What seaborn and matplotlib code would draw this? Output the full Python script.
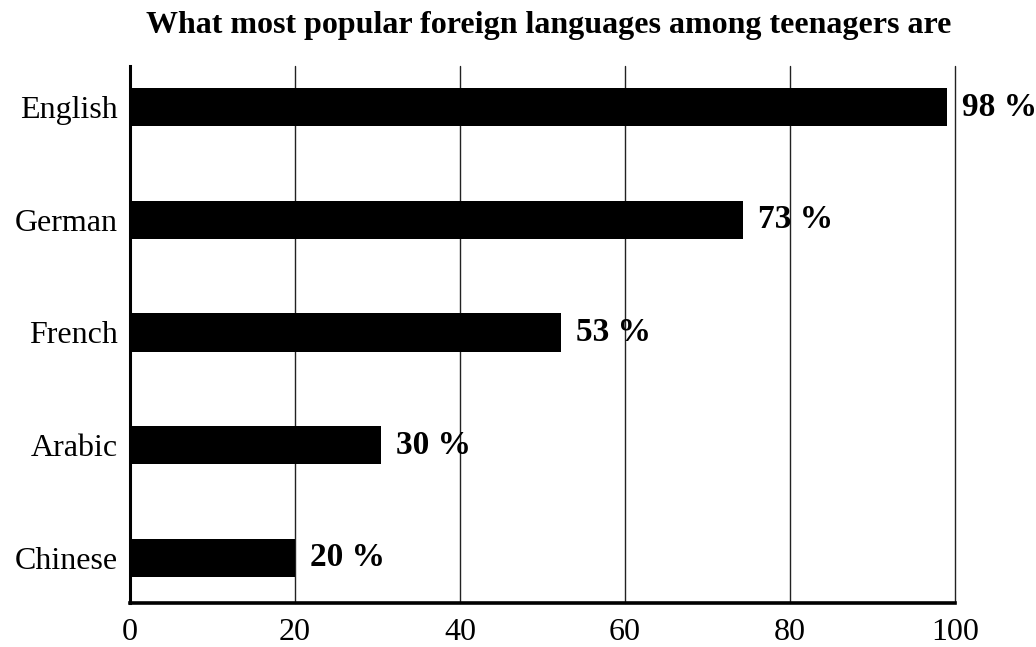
import matplotlib
matplotlib.use("Agg")
import matplotlib.pyplot as plt
import seaborn as sns
import pandas as pd

languages = ["English", "German", "French", "Arabic", "Chinese"]
shares = [99, 74.3, 52.2, 30.4, 20]
share_labels = ["98 %", "73 %", "53 %", "30 %", "20 %"]
x_ticks = [0, 20, 40, 60, 80, 100]
title = "What most popular foreign languages among teenagers are"

sns.set_theme(style="white")
plt.rcParams["font.family"] = ["Liberation Serif", "DejaVu Serif"]

df = pd.DataFrame({"language": languages, "share": shares})

fig = plt.figure(figsize=(10.36, 6.47), dpi=100)
ax = fig.add_axes([0.1255, 0.068, 0.7963, 0.830])

sns.barplot(data=df, x="share", y="language", orient="h", color="black",
            width=0.34, ax=ax, saturation=1, edgecolor="black", linewidth=0, zorder=3)

ax.set_xlim(0, 100)
ax.set_ylim(4.4, -0.364)
ax.set_xticks(x_ticks)
ax.set_xticklabels([str(t) for t in x_ticks])
ax.set_xlabel("")
ax.set_ylabel("")

for t in x_ticks[1:]:
    ax.axvline(t, color="#222222", linewidth=1.0, zorder=1, clip_on=False)

for sp in ["top", "right"]:
    ax.spines[sp].set_visible(False)
ax.spines["left"].set_linewidth(2.2)
ax.spines["bottom"].set_linewidth(2.6)
ax.spines["left"].set_color("black")
ax.spines["bottom"].set_color("black")
ax.spines["left"].set_zorder(4)
ax.spines["bottom"].set_zorder(4)

ax.tick_params(axis="both", length=0, labelsize=23, colors="black")
ax.tick_params(axis="y", pad=9)
ax.tick_params(axis="x", pad=11)

for i, (v, lab) in enumerate(zip(shares, share_labels)):
    ax.annotate(lab, xy=(v, i), xytext=(11, 0), textcoords="offset points",
                ha="left", va="center", fontsize=24, fontweight="bold",
                color="black", annotation_clip=False)

fig.text(0.530, 0.960, title, ha="center", va="center", fontsize=23,
         fontweight="bold", color="black")

fig.savefig("out.png", dpi=100)
